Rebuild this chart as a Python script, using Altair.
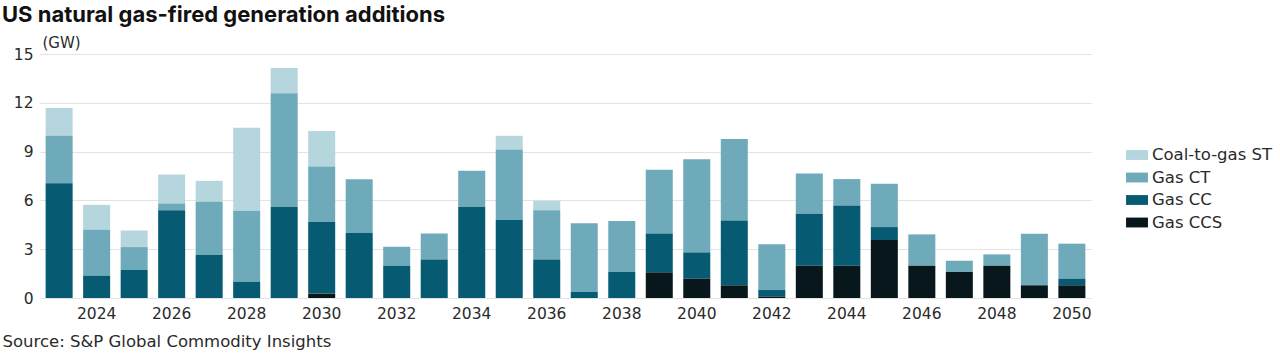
import altair as alt
import pandas as pd

years = list(range(2023, 2051))
gas_ccs = [0, 0, 0, 0, 0, 0, 0, 0.27, 0, 0, 0, 0, 0, 0, 0, 0, 1.58, 1.19, 0.78, 0.08,
           1.98, 1.98, 3.56, 1.98, 1.60, 1.98, 0.78, 0.78]
gas_cc = [7.06, 1.37, 1.72, 5.40, 2.64, 1.00, 5.59, 4.40, 3.99, 1.98, 2.37, 5.59, 4.79, 2.37,
          0.37, 1.60, 2.39, 1.61, 3.99, 0.41, 3.20, 3.71, 0.80, 0, 0, 0, 0, 0.41]
gas_ct = [2.91, 2.82, 1.41, 0.41, 3.27, 4.36, 6.99, 3.41, 3.31, 1.17, 1.60, 2.23, 4.34, 3.03,
          4.23, 3.13, 3.91, 5.73, 5.01, 2.82, 2.47, 1.62, 2.66, 1.93, 0.69, 0.70, 3.17, 2.15]
coal_to_gas = [1.71, 1.54, 1.02, 1.78, 1.29, 5.10, 1.56, 2.19, 0, 0, 0, 0, 0.84, 0.58,
               0, 0, 0, 0, 0, 0, 0, 0, 0, 0, 0, 0, 0, 0]

series = ["Coal-to-gas ST", "Gas CT", "Gas CC", "Gas CCS"]
colors = ["#b6d6de", "#6eaaba", "#065b72", "#08171c"]
stack_rank = {"Gas CCS": 1, "Gas CC": 2, "Gas CT": 3, "Coal-to-gas ST": 4}
values = {"Gas CCS": gas_ccs, "Gas CC": gas_cc, "Gas CT": gas_ct, "Coal-to-gas ST": coal_to_gas}

rows = []
for s in series:
    for y, v in zip(years, values[s]):
        rows.append({"year": str(y), "type": s, "gw": v, "rank": stack_rank[s]})
df = pd.DataFrame(rows)

FONT = "DejaVu Sans"
TFONT = "Inter"
TXT = "#2a2a2a"

chart = alt.Chart(df).mark_bar().encode(
    x=alt.X("year:O",
            scale=alt.Scale(paddingInner=0.28, paddingOuter=0.15),
            axis=alt.Axis(
                title="Source: S&P Global Commodity Insights",
                titleX=-38, titleY=43, titleAnchor="start", titleAlign="left",
                titleBaseline="middle", titleFontSize=16.5, titleFontWeight="normal",
                titleColor=TXT, titleFont=FONT,
                labelAngle=0, labelFontSize=15.5, labelColor=TXT, labelFont=FONT,
                labelPadding=8, ticks=False, domain=False,
                labelExpr="toNumber(datum.value) % 2 == 0 ? datum.label : ''")),
    y=alt.Y("gw:Q", stack="zero",
            scale=alt.Scale(domain=[0, 15]),
            axis=alt.Axis(
                values=[0, 3, 6, 9, 12, 15], title="(GW)", titleAngle=0,
                titleX=2, titleY=-12, titleAlign="left", titleBaseline="middle",
                titleFontSize=15, titleFontWeight="normal", titleColor=TXT,
                titleFont=FONT,
                labelFontSize=15.5, labelColor=TXT, labelFont=FONT, labelPadding=7,
                ticks=False, domain=False, gridColor="#e3e3e3", gridWidth=1)),
    color=alt.Color("type:N",
                    scale=alt.Scale(domain=series, range=colors),
                    legend=alt.Legend(
                        title=None, orient="none", legendX=1086, legendY=90,
                        symbolType="M-1,-0.45L1,-0.45L1,0.45L-1,0.45Z",
                        symbolSize=480, symbolStrokeWidth=0, symbolOpacity=1,
                        labelFontSize=16.5, labelColor=TXT, labelFont=FONT,
                        rowPadding=2.5, labelOffset=4)),
    order=alt.Order("rank:Q", sort="ascending"),
).properties(
    width=1051, height=244,
    title=alt.TitleParams(
        "US natural gas-fired generation additions",
        anchor="start", frame="group", dx=-38, offset=8,
        fontSize=22, fontWeight="bold", color="#111111", font=TFONT),
    autosize=alt.AutoSizeParams(type="none"),
    padding={"left": 40, "top": 54, "right": 189, "bottom": 56},
).configure_view(stroke=None)

chart.save("out.html", embed_options={"renderer": "svg", "actions": False})
